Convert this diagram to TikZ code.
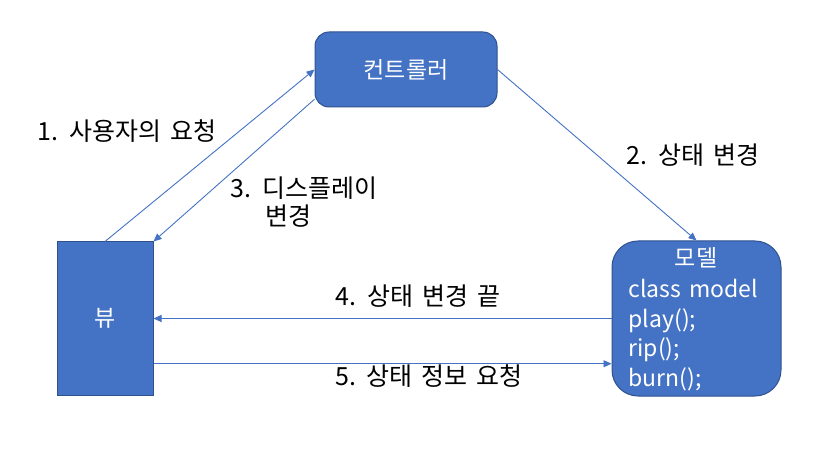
\documentclass[tikz,border=0pt]{standalone}
\usepackage{fontspec}
\setmainfont{Noto Sans CJK KR}
\usetikzlibrary{arrows.meta}
\definecolor{Fill}{HTML}{4472C4}
\definecolor{Edge}{HTML}{2F528F}
\newfontfamily\tagfont[WordSpace=1.6]{Noto Sans CJK KR}
\tikzset{part/.style={draw=Edge,fill=Fill,line width=1pt,text=white,font=\fontsize{23}{28}\selectfont},link/.style={-{Triangle[length=8pt,width=7pt]},draw=Fill,line width=0.9pt},tag/.style={font=\tagfont\fontsize{25}{30}\selectfont,text=black,inner sep=0pt}}
\begin{document}
\begin{tikzpicture}[x=1pt,y=-1pt]
      \useasboundingbox (0,0) rectangle (820,449);
      \node[part,rounded corners=14pt,minimum width=182pt,minimum height=75pt](ctrl) at (406,69.5){컨트롤러};
      \node[part,minimum width=96pt,minimum height=153pt](view) at (105,318.5){뷰};
      \node[part,rounded corners=26pt,minimum width=169pt,minimum height=155pt](model) at (696.5,318.5){};
      \node[part,draw=none,fill=none,inner sep=0pt](mname) at (696,258){모델};
      \node[part,draw=none,fill=none,inner sep=0pt,align=left,anchor=north west,font=\tagfont\fontsize{23}{29.5}\selectfont](mcode) at (628,279){class model\\play();\\rip();\\burn();};
      \node[tag](t1) at (127,131){1. 사용자의 요청};
      \node[tag](t2) at (693,155){2. 상태 변경};
      \node[tag](t3) at (304,188){3. 디스플레이};
      \node[tag](t3b) at (288,216){변경};
      \node[tag](t4) at (418,296){4. 상태 변경 끝};
      \node[tag](t5) at (429,376){5. 상태 정보 요청};
      \draw[link](view.north)--(ctrl.west);
      \draw[link](ctrl.east)--(model.north);
      \draw[link](ctrl.198)--(view.north east);
      \draw[link](model.west)--(view.east);
      \draw[link](view.-43.5)--(view.-43.5 -| model.west);
    \end{tikzpicture}
\end{document}
